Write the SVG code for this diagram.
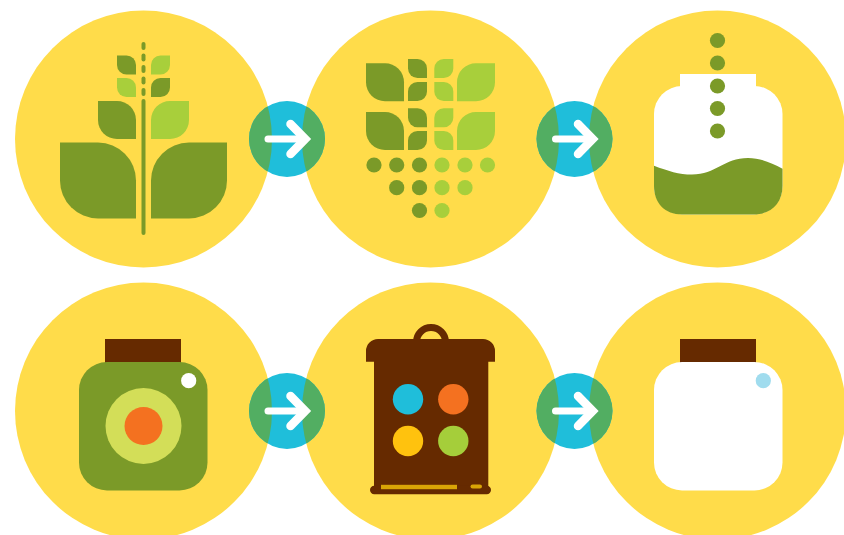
<svg xmlns="http://www.w3.org/2000/svg" xmlns:xlink="http://www.w3.org/1999/xlink" width="844" height="535" viewBox="0 0 844 535">
<style>
.bg{fill:#FFDC4A}
.d{fill:#7B9A28}
.l{fill:#A8CF3B}
.b{fill:#662A00}
.w{fill:#fff}
.blue{fill:#1FBEDA}
.ov{fill:#52AE62}
.ar{fill:none;stroke:#fff;stroke-linecap:round;stroke-linejoin:miter;stroke-miterlimit:4}
</style>
<defs>
<path id="lL" d="M0 0H.5A.5 .5 0 0 1 1 .5V1H.5A.5 .5 0 0 1 0 .5Z"/>
<path id="lR" d="M1 0H.5A.5 .5 0 0 0 0 .5V1H.5A.5 .5 0 0 0 1 .5Z"/>
<clipPath id="c1"><circle cx="143.5" cy="139" r="128.5"/><circle cx="430.5" cy="139" r="128.5"/><circle cx="717.5" cy="139" r="128.5"/></clipPath>
<clipPath id="c2"><circle cx="143.5" cy="411" r="128.5"/><circle cx="430.5" cy="411" r="128.5"/><circle cx="717.5" cy="411" r="128.5"/></clipPath>
<g id="arrow"><path class="ar" stroke-width="7" d="M268 0H304"/><path class="ar" stroke-width="8.5" d="M290.5 -15L305.2 0L290.5 15"/></g>
</defs>
<g id="wheat">
<circle class="bg" cx="143.5" cy="139" r="128.5"/>
<use href="#lL" class="d" transform="translate(60 142.5) scale(76)"/>
<use href="#lR" class="d" transform="translate(151 142.5) scale(76)"/>
<use href="#lL" class="d" transform="translate(98 101) scale(38)"/>
<use href="#lR" class="l" transform="translate(151 101) scale(38)"/>
<use href="#lL" class="d" transform="translate(117 55.5) scale(19)"/>
<use href="#lL" class="l" transform="translate(117 78) scale(19)"/>
<use href="#lR" class="l" transform="translate(151 55.5) scale(19)"/>
<use href="#lR" class="d" transform="translate(151 78) scale(19)"/>
<rect class="d" x="141.5" y="99" width="4" height="136" rx="2"/>
<rect class="d" x="141.5" y="42" width="4" height="8" rx="2"/>
<rect class="d" x="141.5" y="53.5" width="4" height="8" rx="2"/>
<rect class="d" x="141.5" y="65" width="4" height="8" rx="2"/>
<rect class="d" x="141.5" y="76.5" width="4" height="8" rx="2"/>
<rect class="d" x="141.5" y="88" width="4" height="8" rx="2"/>
</g>
<g id="grains">
<circle class="bg" cx="430.5" cy="139" r="128.5"/>
<use href="#lL" class="d" transform="translate(366 63.3) scale(38)"/>
<use href="#lL" class="d" transform="translate(366 112) scale(38)"/>
<use href="#lR" class="l" transform="translate(457 63.3) scale(38)"/>
<use href="#lR" class="l" transform="translate(457 112) scale(38)"/>
<use href="#lL" class="d" transform="translate(408 59) scale(19)"/>
<use href="#lR" class="d" transform="translate(408 82) scale(19)"/>
<use href="#lL" class="d" transform="translate(408 108.3) scale(19)"/>
<use href="#lR" class="d" transform="translate(408 131) scale(19)"/>
<use href="#lR" class="l" transform="translate(434.3 59) scale(19)"/>
<use href="#lL" class="l" transform="translate(434.3 82) scale(19)"/>
<use href="#lR" class="l" transform="translate(434.3 108.3) scale(19)"/>
<use href="#lL" class="l" transform="translate(434.3 131) scale(19)"/>
<circle class="d" cx="374" cy="165" r="7.6"/>
<circle class="d" cx="396.7" cy="165" r="7.6"/>
<circle class="d" cx="419.5" cy="165" r="7.6"/>
<circle class="l" cx="442" cy="165" r="7.6"/>
<circle class="l" cx="465" cy="165" r="7.6"/>
<circle class="l" cx="487.5" cy="165" r="7.6"/>
<circle class="d" cx="396.7" cy="187.7" r="7.6"/>
<circle class="d" cx="419.5" cy="187.7" r="7.6"/>
<circle class="l" cx="442" cy="187.7" r="7.6"/>
<circle class="l" cx="465" cy="187.7" r="7.6"/>
<circle class="d" cx="419.5" cy="210.5" r="7.6"/>
<circle class="l" cx="442" cy="210.5" r="7.6"/>
</g>
<g id="jar-fill">
<circle class="bg" cx="717.5" cy="139" r="128.5"/>
<rect class="w" x="680" y="74" width="76" height="24"/>
<rect class="w" x="654" y="86" width="128.5" height="128.5" rx="28"/>
<path class="d" d="M654 165.7C668 171 679 174.5 692 174.5C716 174.5 724 158 748 158C760 158 771 162.5 782.5 168.7V186C782.5 203 771 214.5 754 214.5H682C665 214.5 654 203 654 186Z"/>
<circle class="d" cx="717.5" cy="40.5" r="7.6"/>
<circle class="d" cx="717.5" cy="63" r="7.6"/>
<circle class="d" cx="717.5" cy="86" r="7.6"/>
<circle class="d" cx="717.5" cy="108.5" r="7.6"/>
<circle class="d" cx="717.5" cy="131" r="7.6"/>
</g>
<g id="jar-green">
<circle class="bg" cx="143.5" cy="411" r="128.5"/>
<rect class="b" x="105" y="339" width="76" height="24"/>
<rect class="d" x="79" y="362" width="128.5" height="128.5" rx="28"/>
<circle fill="#D3DE58" cx="143.5" cy="426" r="38"/>
<circle fill="#F47120" cx="143.5" cy="426" r="19"/>
<circle class="w" cx="188.7" cy="380.7" r="7.6"/>
</g>
<g id="bin">
<circle class="bg" cx="430.5" cy="411" r="128.5"/>
<circle cx="431" cy="342" r="14.5" fill="none" stroke="#662A00" stroke-width="7"/>
<path class="b" d="M366 361.7V351A12 12 0 0 1 378 339H483A12 12 0 0 1 495 351V361.7H488.3V488H374V361.7Z"/>
<rect class="b" x="370" y="485.8" width="121" height="8.5" rx="4.2"/>
<rect fill="#D9A406" x="381" y="484.8" width="76" height="4.4"/>
<rect fill="#D9A406" x="470.5" y="484.4" width="11.5" height="4.2" rx="2.1"/>
<circle class="blue" cx="408" cy="399.3" r="15.2"/>
<circle fill="#F47120" cx="453.3" cy="399.3" r="15.2"/>
<circle fill="#FFC20E" cx="408" cy="441" r="15.2"/>
<circle fill="#A5CE3A" cx="453.3" cy="441" r="15.2"/>
</g>
<g id="jar-empty">
<circle class="bg" cx="717.5" cy="411" r="128.5"/>
<rect class="b" x="680" y="339" width="76" height="24"/>
<rect class="w" x="654" y="362" width="128.5" height="128.5" rx="28"/>
<circle fill="#A0DCEE" cx="763.3" cy="380.7" r="7.6"/>
</g>
<g id="connectors">
<circle class="blue" cx="287" cy="139" r="38"/><circle class="ov" cx="287" cy="139" r="38" clip-path="url(#c1)"/>
<use href="#arrow" transform="translate(0 139)"/>
<circle class="blue" cx="574.5" cy="139" r="38"/><circle class="ov" cx="574.5" cy="139" r="38" clip-path="url(#c1)"/>
<use href="#arrow" transform="translate(287.5 139)"/>
<circle class="blue" cx="287" cy="411" r="38"/><circle class="ov" cx="287" cy="411" r="38" clip-path="url(#c2)"/>
<use href="#arrow" transform="translate(0 411)"/>
<circle class="blue" cx="574.5" cy="411" r="38"/><circle class="ov" cx="574.5" cy="411" r="38" clip-path="url(#c2)"/>
<use href="#arrow" transform="translate(287.5 411)"/>
</g>
</svg>
